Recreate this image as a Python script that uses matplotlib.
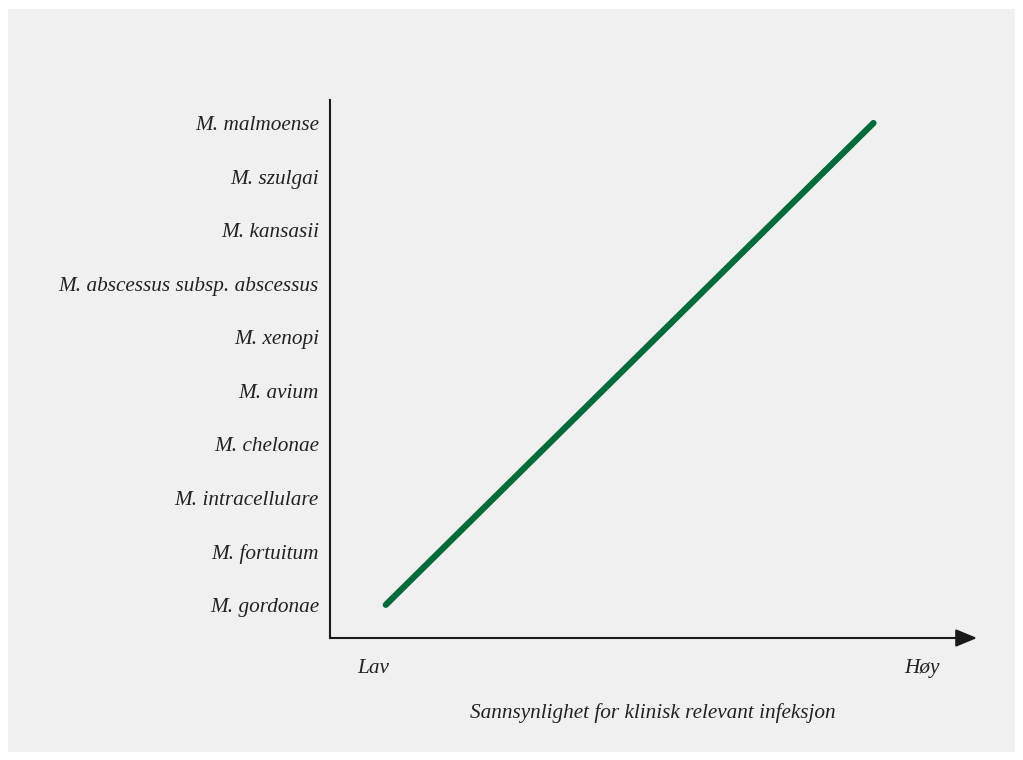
import matplotlib
matplotlib.use("Agg")
import matplotlib.pyplot as plt
from matplotlib.patches import Rectangle

# species, bottom to top
species = ['M. gordonae', 'M. fortuitum', 'M. intracellulare', 'M. chelonae',
           'M. avium', 'M. xenopi', 'M. abscessus subsp. abscessus',
           'M. kansasii', 'M. szulgai', 'M. malmoense']
# green line: from lowest to highest probability
line_x = [1, 10]
line_y = [0, 9]
x_ticks = [0.76, 10.9]
x_ticklabels = ['Lav', 'Høy']
x_title = 'Sannsynlighet for klinisk relevant infeksjon'

bg = '#f0f0f0'
txt = '#222222'
font = {'family': 'Liberation Serif', 'style': 'italic', 'size': 15.3}

fig = plt.figure(figsize=(10.23, 7.6), dpi=100, facecolor='white')
fig.patches.append(Rectangle((8/1023, 8/760), 1007/1023, 743/760,
                             transform=fig.transFigure, facecolor=bg,
                             edgecolor='none', zorder=-10))

ax = fig.add_axes([330/1023, 122/760, 647/1023, 538/760])
ax.set_facecolor('none')

ax.plot(line_x, line_y, color='#006b3a', lw=4.5, solid_capstyle='round')

ax.set_xlim(-0.03, 11.91)
ax.set_ylim(-0.62, 9.43)

ax.set_yticks(range(len(species)))
ax.set_yticklabels(species, fontdict=font, color=txt)
ax.set_xticks(x_ticks)
ax.set_xticklabels(x_ticklabels, fontdict=font, color=txt)
ax.tick_params(axis='both', length=0)
ax.tick_params(axis='y', pad=8)
ax.tick_params(axis='x', pad=15)

for s in ['top', 'right', 'bottom']:
    ax.spines[s].set_visible(False)
ax.spines['left'].set_linewidth(1.5)
ax.spines['left'].set_color('#1a1a1a')

ax.annotate('', xy=(1.0, 0), xytext=(0, 0), xycoords='axes fraction',
            arrowprops=dict(arrowstyle='-|>,head_length=0.65,head_width=0.27',
                            color='#1a1a1a', lw=1.5, mutation_scale=20,
                            shrinkA=0, shrinkB=0))

fig.text(653/1023, 1 - 713/760, x_title, ha='center', va='center',
         color=txt, **font)

fig.savefig('out.png', dpi=100, facecolor='white')
